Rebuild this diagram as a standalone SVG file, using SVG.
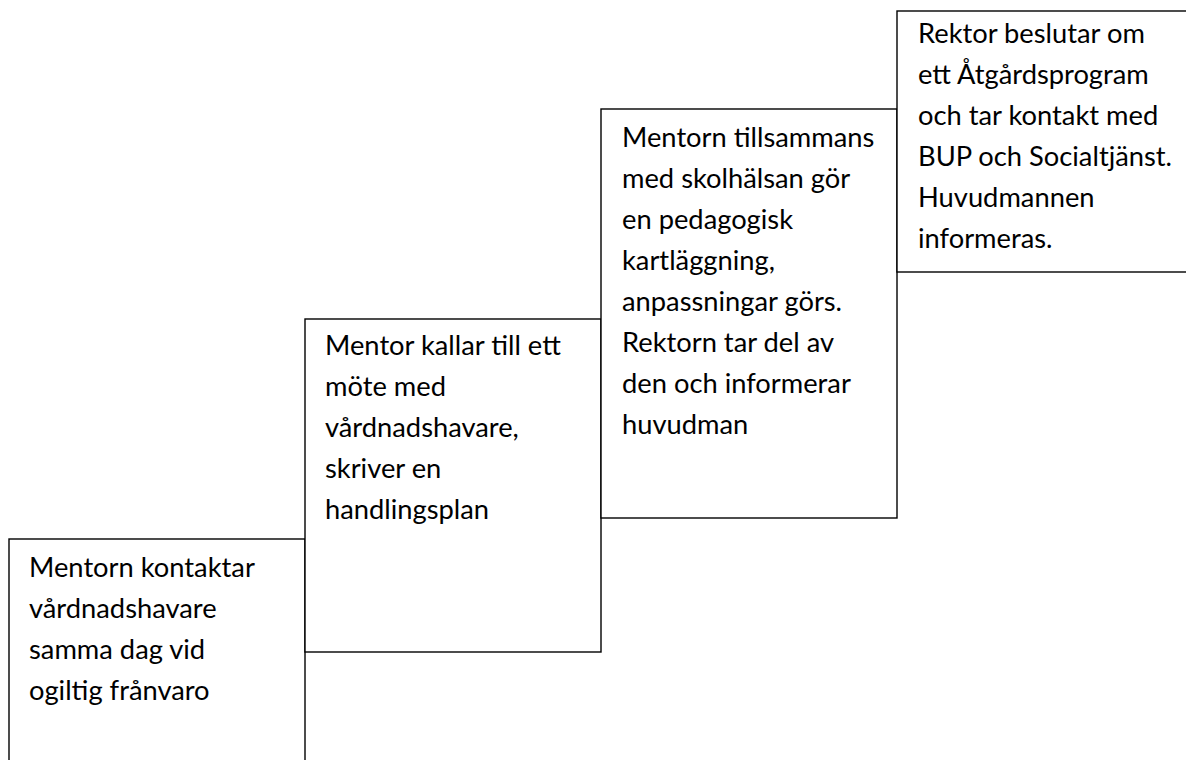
<svg xmlns="http://www.w3.org/2000/svg" width="1186" height="760" viewBox="0 0 1186 760">
<style>
.box{fill:#fff;stroke:#000;stroke-width:1.4}
.t{font-family:Lato,"Open Sans",sans-serif;font-size:27.3px;fill:#000}
</style>
<rect width="1186" height="760" fill="#fff"/>
<g id="step1">
<rect class="box" x="9" y="539" width="296" height="240"/>
<text class="t" x="29" y="577">Mentorn kontaktar</text>
<text class="t" x="29" y="618">vårdnadshavare</text>
<text class="t" x="29" y="659">samma dag vid</text>
<text class="t" x="29" y="700">ogiltig frånvaro</text>
</g>
<g id="step2">
<rect class="box" x="305" y="319" width="296" height="333"/>
<text class="t" x="325" y="355">Mentor kallar till ett</text>
<text class="t" x="325" y="396">möte med</text>
<text class="t" x="325" y="437">vårdnadshavare,</text>
<text class="t" x="325" y="478">skriver en</text>
<text class="t" x="325" y="519">handlingsplan</text>
</g>
<g id="step3">
<rect class="box" x="601" y="109" width="296" height="409"/>
<text class="t" x="622" y="147">Mentorn tillsammans</text>
<text class="t" x="622" y="188">med skolhälsan gör</text>
<text class="t" x="622" y="229">en pedagogisk</text>
<text class="t" x="622" y="270">kartläggning,</text>
<text class="t" x="622" y="311">anpassningar görs.</text>
<text class="t" x="622" y="352">Rektorn tar del av</text>
<text class="t" x="622" y="393">den och informerar</text>
<text class="t" x="622" y="434">huvudman</text>
</g>
<g id="step4">
<rect class="box" x="897" y="11" width="320" height="261"/>
<text class="t" x="918" y="43">Rektor beslutar om</text>
<text class="t" x="918" y="84">ett Åtgårdsprogram</text>
<text class="t" x="918" y="125">och tar kontakt med</text>
<text class="t" x="918" y="166">BUP och Socialtjänst.</text>
<text class="t" x="918" y="207">Huvudmannen</text>
<text class="t" x="918" y="248">informeras.</text>
</g>
<g id="connectors"></g>
</svg>
